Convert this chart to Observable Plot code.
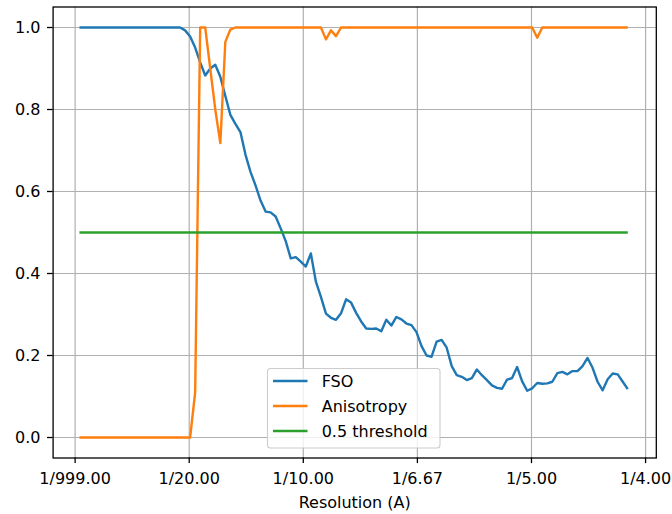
<!DOCTYPE html>
<html>
<head>
<meta charset="utf-8">
<script src="https://cdn.jsdelivr.net/npm/d3@7"></script>
<script src="https://cdn.jsdelivr.net/npm/@observablehq/plot@0.6"></script>
<style>
html, body { margin: 0; padding: 0; background: #fff; }
#chart svg { display: block; }
</style>
</head>
<body>
<div id="chart"></div>
<script>
// Fourier shell sampling (spatial frequency, 1/A)
const shellStart = 0.0019;
const shellStep = 0.0022046;

// FSO values per shell
const fso = [
  1.0, 1.0, 1.0, 1.0, 1.0, 1.0, 1.0, 1.0, 1.0, 1.0,
  1.0, 1.0, 1.0, 1.0, 1.0, 1.0, 1.0, 1.0, 1.0, 1.0,
  1.0, 0.993, 0.978, 0.951, 0.915, 0.883, 0.9, 0.909, 0.88, 0.833,
  0.787, 0.765, 0.745, 0.69, 0.648, 0.615, 0.578, 0.551, 0.549, 0.539,
  0.51, 0.479, 0.437, 0.44, 0.429, 0.417, 0.449, 0.38, 0.343, 0.302,
  0.292, 0.287, 0.303, 0.337, 0.329, 0.304, 0.283, 0.266, 0.265, 0.266,
  0.259, 0.287, 0.273, 0.294, 0.288, 0.278, 0.274, 0.257, 0.223, 0.2,
  0.197, 0.234, 0.238, 0.219, 0.174, 0.152, 0.148, 0.14, 0.145, 0.166,
  0.152, 0.14, 0.127, 0.121, 0.119, 0.141, 0.145, 0.172, 0.137, 0.114,
  0.12, 0.133, 0.131, 0.132, 0.136, 0.157, 0.16, 0.154, 0.162, 0.162,
  0.174, 0.194, 0.17, 0.136, 0.115, 0.142, 0.156, 0.154, 0.136, 0.118
];

// Anisotropy values per shell
const anisotropy = [
  0, 0, 0, 0, 0, 0, 0, 0, 0, 0,
  0, 0, 0, 0, 0, 0, 0, 0, 0, 0,
  0, 0, 0, 0.11, 1.0, 1.0, 0.9, 0.8, 0.718, 0.965,
  0.995, 1.0, 1.0, 1.0, 1.0, 1.0, 1.0, 1.0, 1.0, 1.0,
  1.0, 1.0, 1.0, 1.0, 1.0, 1.0, 1.0, 1.0, 1.0, 0.971,
  0.993, 0.979, 1.0, 1.0, 1.0, 1.0, 1.0, 1.0, 1.0, 1.0,
  1.0, 1.0, 1.0, 1.0, 1.0, 1.0, 1.0, 1.0, 1.0, 1.0,
  1.0, 1.0, 1.0, 1.0, 1.0, 1.0, 1.0, 1.0, 1.0, 1.0,
  1.0, 1.0, 1.0, 1.0, 1.0, 1.0, 1.0, 1.0, 1.0, 1.0,
  1.0, 0.975, 1.0, 1.0, 1.0, 1.0, 1.0, 1.0, 1.0, 1.0,
  1.0, 1.0, 1.0, 1.0, 1.0, 1.0, 1.0, 1.0, 1.0, 1.0
];

const threshold = 0.5;

const xTicks = [0, 0.05, 0.1, 0.15, 0.2, 0.25];
const xTickLabels = ["1/999.00", "1/20.00", "1/10.00", "1/6.67", "1/5.00", "1/4.00"];
const yTicks = [0, 0.2, 0.4, 0.6, 0.8, 1.0];
const seriesNames = ["FSO", "Anisotropy", "0.5 threshold"];
const seriesColors = ["#1f77b4", "#ff7f0e", "#2ca02c"];
const xLabel = "Resolution (A)";

const freq = fso.map((_, i) => shellStart + i * shellStep);
const fsoRows = freq.map((f, i) => ({f, v: fso[i]}));
const anisoRows = freq.map((f, i) => ({f, v: anisotropy[i]}));
const thrRows = [{f: freq[0], v: threshold}, {f: freq[freq.length - 1], v: threshold}];

const lineStyle = {x: "f", y: "v", strokeWidth: 2.4, strokeLinejoin: "round", strokeLinecap: "butt"};

const chart = Plot.plot({
  width: 672,
  height: 514,
  marginTop: 6.5,
  marginBottom: 56.5,
  marginLeft: 52.6,
  marginRight: 16.2,
  style: {fontFamily: "DejaVu Sans", fontSize: "16px", color: "#000", background: "#fff", overflow: "visible"},
  x: {domain: [-0.00965, 0.2547]},
  y: {domain: [-0.05, 1.05]},
  marks: [
    Plot.gridX(xTicks, {stroke: "#b0b0b0", strokeOpacity: 1, strokeWidth: 1.2}),
    Plot.gridY(yTicks, {stroke: "#b0b0b0", strokeOpacity: 1, strokeWidth: 1.2}),
    Plot.line(fsoRows, {...lineStyle, stroke: seriesColors[0]}),
    Plot.line(anisoRows, {...lineStyle, stroke: seriesColors[1]}),
    Plot.line(thrRows, {...lineStyle, stroke: seriesColors[2]}),
    Plot.frame({stroke: "#000", strokeWidth: 1.3}),
    Plot.axisX(xTicks, {tickFormat: d => xTickLabels[xTicks.indexOf(d)], tickSize: 5.6, tickPadding: 9, label: null, strokeWidth: 1.3, fontSize: 16}),
    Plot.axisY(yTicks, {tickFormat: d3.format(".1f"), tickSize: 5.6, tickPadding: 7, label: null, strokeWidth: 1.3, fontSize: 16}),
    Plot.text([xLabel], {text: d => d, frameAnchor: "bottom", dy: 44.5, lineAnchor: "middle", fill: "#000", fontSize: 16})
  ]
});

document.getElementById("chart").appendChild(chart);

// Legend (matplotlib style)
const svg = d3.select(chart);
const lg = svg.append("g")
  .attr("font-family", "DejaVu Sans")
  .attr("font-size", "16px")
  .attr("text-anchor", "start");
lg.append("rect")
  .attr("x", 267.5).attr("y", 368.5).attr("width", 172.5).attr("height", 79.5)
  .attr("rx", 3).attr("fill", "#fff").attr("fill-opacity", 0.8)
  .attr("stroke", "#cccccc").attr("stroke-width", 1.1);
seriesNames.forEach((name, i) => {
  const y = 381 + i * 25;
  lg.append("line").attr("x1", 273).attr("x2", 307.5).attr("y1", y).attr("y2", y)
    .attr("stroke", seriesColors[i]).attr("stroke-width", 2.4);
  lg.append("text").attr("x", 321.7).attr("y", y).attr("dy", "0.36em")
    .attr("text-anchor", "start").attr("fill", "#000").text(name);
});
</script>
</body>
</html>
